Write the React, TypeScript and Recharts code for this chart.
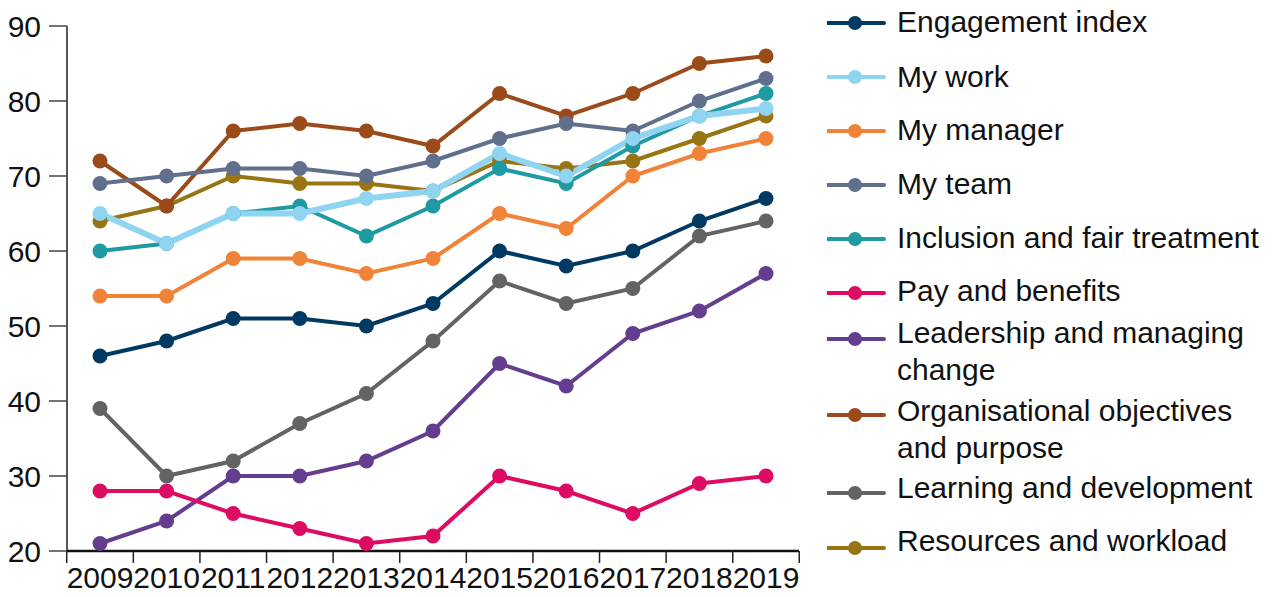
import React from "react";
import { LineChart, Line, XAxis, YAxis, Legend } from "recharts";

const years = ["2009", "2010", "2011", "2012", "2013", "2014", "2015", "2016", "2017", "2018", "2019"];

const engagementIndex = [46, 48, 51, 51, 50, 53, 60, 58, 60, 64, 67];
const myWork = [65, 61, 65, 65, 67, 68, 73, 70, 75, 78, 79];
const myManager = [54, 54, 59, 59, 57, 59, 65, 63, 70, 73, 75];
const myTeam = [69, 70, 71, 71, 70, 72, 75, 77, 76, 80, 83];
const inclusion = [60, 61, 65, 66, 62, 66, 71, 69, 74, 78, 81];
const payBenefits = [28, 28, 25, 23, 21, 22, 30, 28, 25, 29, 30];
const leadership = [21, 24, 30, 30, 32, 36, 45, 42, 49, 52, 57];
const organisational = [72, 66, 76, 77, 76, 74, 81, 78, 81, 85, 86];
const learning = [39, 30, 32, 37, 41, 48, 56, 53, 55, 62, 64];
const resources = [64, 66, 70, 69, 69, 68, 72, 71, 72, 75, 78];

const yTicks = [20, 30, 40, 50, 60, 70, 80, 90];

// legend order
const series = [
  { key: "engagement", name: "Engagement index", values: engagementIndex, color: "#003a63" },
  { key: "work", name: "My work", values: myWork, color: "#8fd4f0" },
  { key: "manager", name: "My manager", values: myManager, color: "#f08337" },
  { key: "team", name: "My team", values: myTeam, color: "#5f6f8c" },
  { key: "inclusion", name: "Inclusion and fair treatment", values: inclusion, color: "#1f9aa3" },
  { key: "pay", name: "Pay and benefits", values: payBenefits, color: "#dd0b62" },
  { key: "leadership", name: "Leadership and managing change", values: leadership, color: "#653d8f" },
  { key: "organisational", name: "Organisational objectives and purpose", values: organisational, color: "#9b4a1a" },
  { key: "learning", name: "Learning and development", values: learning, color: "#636363" },
  { key: "resources", name: "Resources and workload", values: resources, color: "#977414" },
];

// drawing order (last on top)
const drawOrder = ["resources", "organisational", "learning", "leadership", "pay", "engagement", "manager", "team", "inclusion", "work"];

const data = years.map((year, i) => {
  const row: Record<string, string | number> = { year };
  series.forEach((s) => {
    row[s.key] = s.values[i];
  });
  return row;
});

const FONT = "'Liberation Sans', Arial, sans-serif";
const HALF_BAND = 33.27;

// legend layout (marker centre / text cap centre, page px)
const legendMarkY = [23, 77, 131, 185, 239, 293, 339, 415, 493, 548];
const legendTextY = [21.5, 76, 129, 183.5, 237, 290, 332, 410, 487, 540];

const XTick = (props: any) => {
  const { x, y, payload, index, visibleTicksCount } = props;
  const axisY = y - 16;
  const isLast = index === (visibleTicksCount ?? years.length) - 1;
  return (
    <g>
      <line x1={x - HALF_BAND} x2={x - HALF_BAND} y1={axisY} y2={axisY + 12} stroke="#222" strokeWidth={1.5} />
      {isLast && (
        <line x1={x + HALF_BAND} x2={x + HALF_BAND} y1={axisY} y2={axisY + 12} stroke="#222" strokeWidth={1.5} />
      )}
      <text x={x} y={y} dy="0.71em" textAnchor="middle" fontSize={30} fontFamily={FONT} fill="#111">
        {payload.value}
      </text>
    </g>
  );
};

const LegendContent = () => (
  <div style={{ position: "relative", width: 446, height: 597 }}>
    {series.map((s, i) => (
      <React.Fragment key={s.key}>
        <svg
          width={60}
          height={20}
          style={{ position: "absolute", left: 0, top: legendMarkY[i] - 10 }}
        >
          <line x1={0} x2={57} y1={10} y2={10} stroke={s.color} strokeWidth={4} strokeLinecap="round" />
          <circle cx={28} cy={10} r={7} fill={s.color} />
        </svg>
        <div
          style={{
            position: "absolute",
            left: 70,
            top: legendTextY[i] - 18.2,
            width: 376,
            fontSize: 30,
            lineHeight: "37px",
            fontFamily: FONT,
            color: "#111",
            whiteSpace: "normal",
          }}
        >
          {s.name}
        </div>
      </React.Fragment>
    ))}
  </div>
);

export default function App() {
  return (
    <div style={{ position: "absolute", left: 0, top: 0 }}>
      <LineChart width={1273} height={597} data={data} margin={{ top: 26, right: 28, bottom: 0, left: 0 }}>
        <XAxis
          dataKey="year"
          height={46}
          padding={{ left: 33, right: 33 }}
          tickLine={false}
          tickSize={12}
          tickMargin={4}
          interval={0}
          axisLine={{ stroke: "#111", strokeWidth: 2.5 }}
          tick={<XTick />}
        />
        <YAxis
          domain={[20, 90]}
          ticks={yTicks}
          width={67}
          tickSize={18}
          tickMargin={8}
          interval={0}
          axisLine={{ stroke: "#222", strokeWidth: 1.5 }}
          tickLine={{ stroke: "#444", strokeWidth: 1.5 }}
          tick={{ fontSize: 30, fontFamily: FONT, fill: "#111" }}
        />
        <Legend
          layout="vertical"
          align="right"
          verticalAlign="top"
          wrapperStyle={{ left: 827, top: 0, width: 446, right: "auto" }}
          content={<LegendContent />}
        />
        {drawOrder.map((k) => {
          const s = series.find((x) => x.key === k)!;
          return (
            <Line
              key={s.key}
              dataKey={s.key}
              name={s.name}
              stroke={s.color}
              strokeWidth={s.key === "work" ? 6 : 4}
              dot={{ r: 7.5, fill: s.color, stroke: "none" }}
              activeDot={false}
              isAnimationActive={false}
            />
          );
        })}
      </LineChart>
    </div>
  );
}
